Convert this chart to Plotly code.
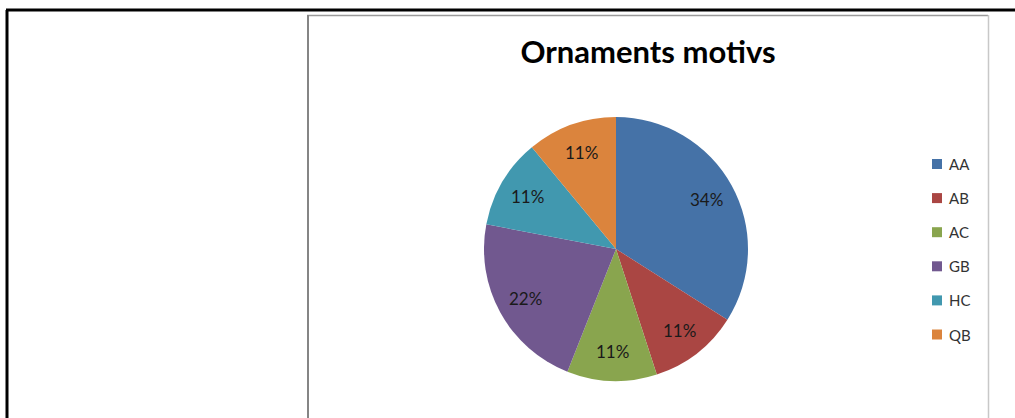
import math
import plotly.graph_objects as go

# Ornament motif shares (percent)
labels = ["AA", "AB", "AC", "GB", "HC", "QB"]
shares = [34, 11, 11, 22, 11, 11]
colors = ["#4572A7", "#AA4643", "#89A54E", "#71588F", "#4198AF", "#DB843D"]

W, H = 1015, 418


def px(x):
    return x / W


def py(y):
    return 1 - y / H


# pie centre and radius in pixels
cx, cy, r = 616, 249, 132

fig = go.Figure(
    go.Pie(
        labels=labels,
        values=shares,
        sort=False,
        direction="clockwise",
        rotation=0,
        marker=dict(colors=colors, line=dict(width=0)),
        textinfo="none",
        domain=dict(x=[px(cx - r), px(cx + r)], y=[py(cy + r), py(cy - r)]),
        showlegend=False,
        hoverinfo="label+percent",
    )
)

annotations = []

# percentage labels placed along each slice's mid-angle
total = sum(shares)
acc = 0
for v in shares:
    mid = (acc + v / 2) / total * 2 * math.pi
    acc += v
    lx = cx + 0.78 * r * math.sin(mid)
    ly = cy - 0.78 * r * math.cos(mid)
    annotations.append(dict(text=f"{v}%", x=px(lx), y=py(ly),
                            xref="paper", yref="paper", xanchor="center",
                            yanchor="middle", showarrow=False,
                            font=dict(family="Lato", size=17, color="#1a1a1a")))

shapes = [
    # outer frame
    dict(type="line", x0=px(6), x1=px(1015), y0=py(10), y1=py(10),
         line=dict(color="black", width=3)),
    dict(type="line", x0=px(7), x1=px(7), y0=py(10), y1=py(420),
         line=dict(color="black", width=3)),
    # chart area box
    dict(type="line", x0=px(307), x1=px(988), y0=py(15.5), y1=py(15.5),
         line=dict(color="#9a9a9a", width=1.5)),
    dict(type="line", x0=px(308), x1=px(308), y0=py(15), y1=py(420),
         line=dict(color="#858585", width=2)),
    dict(type="line", x0=px(988.5), x1=px(988.5), y0=py(15), y1=py(420),
         line=dict(color="#c8c8c8", width=1.5)),
]

# legend entries
leg_x, leg_y0, leg_step = 932, 164, 34.1
for i, (lab, col) in enumerate(zip(labels, colors)):
    yc = leg_y0 + i * leg_step
    shapes.append(dict(type="rect", x0=px(leg_x), x1=px(leg_x + 10),
                       y0=py(yc - 5), y1=py(yc + 5),
                       fillcolor=col, line=dict(width=0)))
    annotations.append(dict(text=lab, x=px(leg_x + 15), y=py(yc),
                            xref="paper", yref="paper", xanchor="left",
                            yanchor="middle", showarrow=False,
                            font=dict(family="Lato", size=15, color="#333333")))

fig.update_layout(
    width=W,
    height=H,
    margin=dict(l=0, r=0, t=0, b=0),
    paper_bgcolor="white",
    plot_bgcolor="white",
    title=dict(text="<b>Ornaments motivs</b>", x=px(648), y=py(52),
               xanchor="center", yanchor="middle",
               font=dict(family="Lato", size=31, color="black")),
    shapes=shapes,
    annotations=annotations,
)

fig.write_html("out.html")
